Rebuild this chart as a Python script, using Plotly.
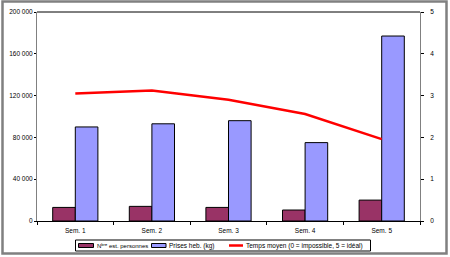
import plotly.graph_objects as go

categories = ["Sem. 1", "Sem. 2", "Sem. 3", "Sem. 4", "Sem. 5"]
personnes = [13000, 14000, 13000, 10500, 20000]
prises = [90000, 93000, 96000, 75000, 177000]
temps = [3.05, 3.12, 2.9, 2.56, 1.96]
left_ticks = [0, 40000, 80000, 120000, 160000, 200000]
left_labels = ["0", "40 000", "80 000", "120 000", "160 000", "200 000"]
right_ticks = [0, 1, 2, 3, 4, 5]
series_names = ["Nᵇʳᵉ est. personnes", "Prises heb. (kg)",
                "Temps moyen (0 = impossible, 5 = idéal)"]
series_colors = ["#993366", "#9999FF", "#FF0000"]

FONT = "Arial, Liberation Sans, sans-serif"

fig = go.Figure()
fig.add_trace(go.Bar(x=categories, y=personnes, name=series_names[0],
                     marker=dict(color=series_colors[0], line=dict(color="black", width=1))))
fig.add_trace(go.Bar(x=categories, y=prises, name=series_names[1],
                     marker=dict(color=series_colors[1], line=dict(color="black", width=1))))
fig.add_trace(go.Scatter(x=categories, y=temps, name=series_names[2],
                         mode="lines", line=dict(color=series_colors[2], width=2.5), yaxis="y2"))

W, H = 450, 257
L, R, T, B = 37, 420, 12, 221
def px(x):
    return (x - L) / (R - L)
def py(y):
    return (B - y) / (B - T)

shapes = [
    dict(type="line", xref="paper", yref="paper", x0=0, x1=1, y0=1, y1=1,
         line=dict(color="black", width=1)),
    dict(type="rect", xref="paper", yref="paper", x0=px(2.5), x1=px(446.5),
         y0=py(253.5), y1=py(1.5), line=dict(color="#808080", width=2.5),
         fillcolor="rgba(0,0,0,0)", layer="below"),
    # legend box
    dict(type="rect", xref="paper", yref="paper", x0=px(75.5), x1=px(370.5),
         y0=py(251), y1=py(240), line=dict(color="black", width=1), fillcolor="white"),
    dict(type="rect", xref="paper", yref="paper", x0=px(78.5), x1=px(93.5),
         y0=py(247.5), y1=py(243.5), line=dict(color="black", width=1),
         fillcolor=series_colors[0]),
    dict(type="rect", xref="paper", yref="paper", x0=px(151.5), x1=px(166),
         y0=py(247.5), y1=py(243.5), line=dict(color="black", width=1),
         fillcolor=series_colors[1]),
    dict(type="line", xref="paper", yref="paper", x0=px(229), x1=px(243),
         y0=py(245.5), y1=py(245.5), line=dict(color=series_colors[2], width=2.5)),
]
legend_x = [94.5, 167, 243.5]
legend_sizes = [6, 6.5, 6.5]
annotations = [
    dict(xref="paper", yref="paper", x=px(x0), y=py(246), text=t, showarrow=False,
         xanchor="left", yanchor="middle", font=dict(size=s, family=FONT, color="black"))
    for x0, t, s in zip(legend_x, series_names, legend_sizes)
]

fig.update_layout(
    width=W, height=H,
    margin=dict(l=L, r=W - R, t=T, b=H - B, autoexpand=False),
    paper_bgcolor="white", plot_bgcolor="white",
    font=dict(family=FONT, size=7, color="black"),
    barmode="group", bargap=0.41, bargroupgap=0,
    showlegend=False,
    xaxis=dict(type="category", showgrid=False, showline=True, linecolor="black", linewidth=1,
               ticks="outside", ticklen=3, tickcolor="black", tickson="boundaries",
               tickfont=dict(size=6.5), range=[-0.5, 4.5], automargin=False,
               ticklabelstandoff=3),
    yaxis=dict(range=[0, 200000], tickvals=left_ticks, ticktext=left_labels, showgrid=False,
               showline=True, linecolor="#808080", linewidth=1, ticks="outside", ticklen=2,
               tickcolor="black", tickfont=dict(size=6.5), zeroline=False, automargin=False,
               ticklabelstandoff=0),
    yaxis2=dict(range=[0, 5], tickvals=right_ticks, overlaying="y", side="right", showgrid=False,
                showline=True, linecolor="#808080", linewidth=1, ticks="outside", ticklen=3,
                tickcolor="black", tickfont=dict(size=6.5), zeroline=False, automargin=False,
                ticklabelstandoff=5),
    shapes=shapes,
    annotations=annotations,
)

fig.write_html("out.html")
